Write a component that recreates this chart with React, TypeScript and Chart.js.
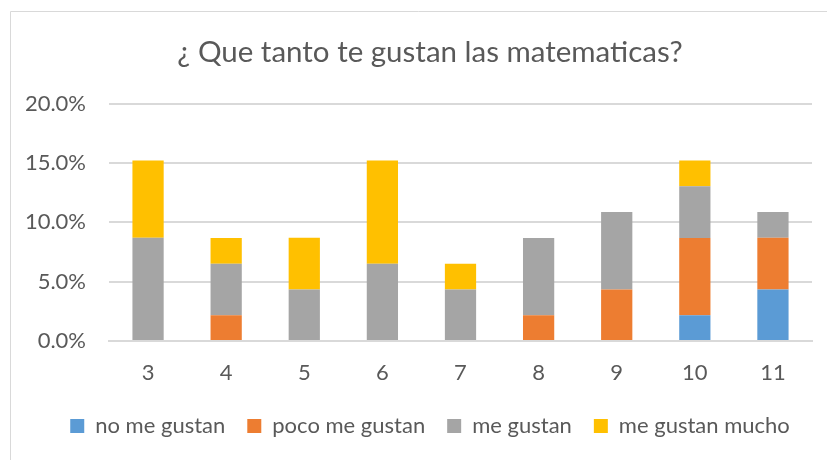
import React, { useEffect, useRef } from "react";
import { Chart, registerables } from "chart.js";

Chart.register(...registerables);

const chartTitle = "¿ Que tanto te gustan las matematicas?";
const categories = ["3", "4", "5", "6", "7", "8", "9", "10", "11"];
const seriesNames = ["no me gustan", "poco me gustan", "me gustan", "me gustan mucho"];
const noMeGustan = [0, 0, 0, 0, 0, 0, 0, 2.17, 4.35];
const pocoMeGustan = [0, 2.17, 0, 0, 0, 2.17, 4.35, 6.52, 4.35];
const meGustan = [8.7, 4.35, 4.35, 6.52, 4.35, 6.52, 6.52, 4.35, 2.17];
const meGustanMucho = [6.52, 2.17, 4.35, 8.7, 2.17, 0, 0, 2.17, 0];
const seriesColors = ["#5B9BD5", "#ED7D31", "#A5A5A5", "#FFC000"];
const yMax = 20;
const yStep = 5;

const FONT = "Lato, 'Open Sans', sans-serif";
const TEXT = "#595959";
const GRID = "#D9D9D9";

const framePlugin = {
  id: "frame",
  afterLayout(chart: any) {
    // centre title and legend over the same band as the original (x 48..812)
    if (chart.titleBlock) chart.titleBlock.left = 48;
    if (chart.legend) chart.legend.left = 48;
  },
  beforeDraw(chart: any) {
    const ctx = chart.ctx;
    ctx.save();
    ctx.strokeStyle = GRID;
    ctx.lineWidth = 1;
    ctx.beginPath();
    ctx.moveTo(10.5, chart.height);
    ctx.lineTo(10.5, 11.5);
    ctx.lineTo(chart.width, 11.5);
    ctx.stroke();
    ctx.restore();
  },
};

export default function App() {
  const ref = useRef<HTMLCanvasElement | null>(null);
  useEffect(() => {
    if (!ref.current) return;
    const values = [noMeGustan, pocoMeGustan, meGustan, meGustanMucho];
    const chart = new Chart(ref.current, {
      type: "bar",
      data: {
        labels: categories,
        datasets: seriesNames.map((name, i) => ({
          label: name,
          data: values[i],
          backgroundColor: seriesColors[i],
          borderWidth: 0,
          barPercentage: 0.4,
          categoryPercentage: 1.0,
        })),
      },
      options: {
        responsive: false,
        animation: false,
        layout: { padding: { left: 0, right: 15, top: 0, bottom: 13 } },
        plugins: {
          title: {
            display: true,
            text: chartTitle,
            color: TEXT,
            font: { family: FONT, size: 29.5, weight: "normal" },
            padding: { top: 34.3, bottom: 34 },
          },
          legend: {
            position: "bottom",
            labels: {
              color: TEXT,
              font: { family: FONT, size: 22 },
              boxWidth: 14,
              boxHeight: 14,
              padding: 22,
            },
          },
          tooltip: { enabled: false },
        },
        scales: {
          x: {
            stacked: true,
            grid: { display: false, drawTicks: false },
            border: { color: GRID, width: 2 },
            ticks: { color: TEXT, font: { family: FONT, size: 22 }, padding: 18.8 },
            afterFit: (s: any) => { s.height = 52; },
          },
          y: {
            stacked: true,
            min: 0,
            max: yMax,
            ticks: {
              stepSize: yStep,
              color: TEXT,
              font: { family: FONT, size: 22 },
              padding: 23,
              callback: (v: any) => Number(v).toFixed(1) + "%",
            },
            grid: { color: GRID, lineWidth: 2, drawTicks: false },
            border: { display: false },
            afterFit: (s: any) => { s.width = 109; },
          },
        },
      },
      plugins: [framePlugin],
    });
    return () => chart.destroy();
  }, []);
  return (
    <div style={{ position: "absolute", left: 0, top: 0, width: 827, height: 460, background: "#fff" }}>
      <canvas ref={ref} width={827} height={460} style={{ display: "block" }} />
    </div>
  );
}
